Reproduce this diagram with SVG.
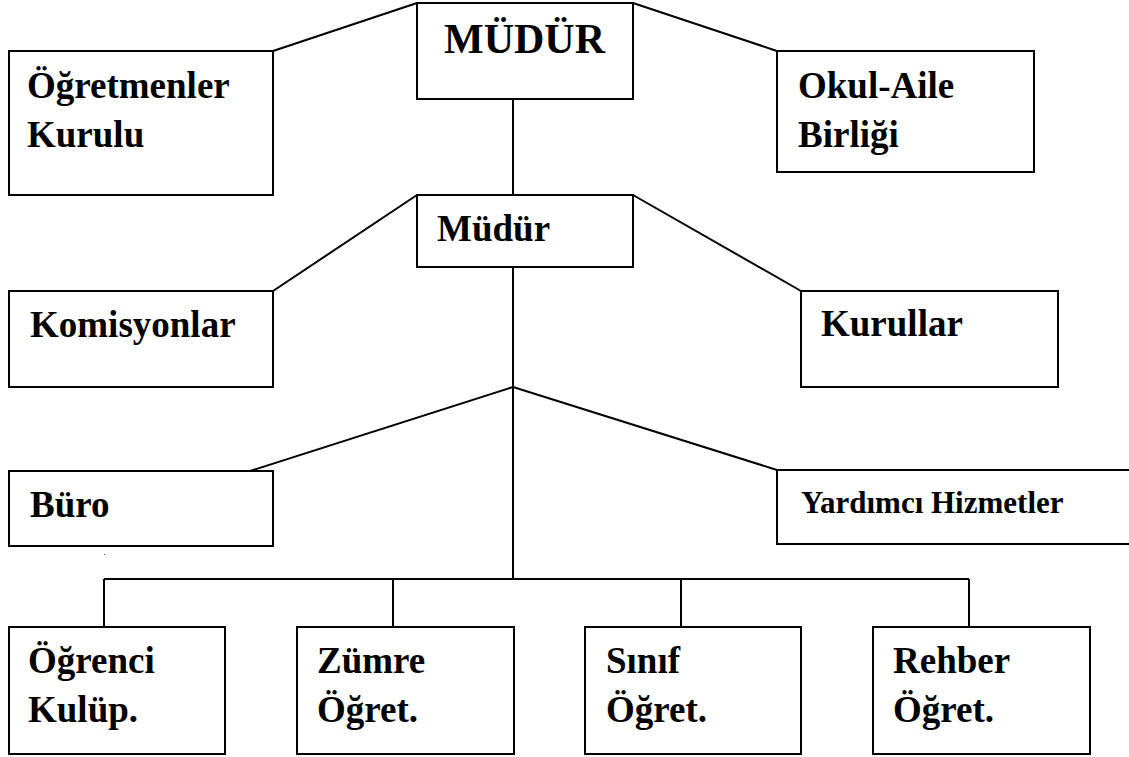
<svg xmlns="http://www.w3.org/2000/svg" width="1129" height="757" viewBox="0 0 1129 757">
<style>
.box{fill:#fff;stroke:#000;stroke-width:2}
.ln{stroke:#000;stroke-width:2;fill:none}
text{font-family:"Liberation Serif","Times New Roman",serif;font-weight:bold;fill:#000;font-size:37px}
</style>
<rect width="1129" height="757" fill="#fff"/>
<g id="connectors">
<line class="ln" x1="273" y1="51" x2="417" y2="3"/>
<line class="ln" x1="633" y1="3" x2="777" y2="51"/>
<line class="ln" x1="513" y1="99" x2="513" y2="195"/>
<line class="ln" x1="273" y1="291" x2="417" y2="195"/>
<line class="ln" x1="633" y1="195" x2="801" y2="291"/>
<line class="ln" x1="513" y1="267" x2="513" y2="579"/>
<line class="ln" x1="513" y1="387" x2="250" y2="471"/>
<line class="ln" x1="513" y1="387" x2="777" y2="470"/>
<line class="ln" x1="104" y1="579" x2="969" y2="579"/>
<line class="ln" x1="104" y1="579" x2="104" y2="627"/>
<line class="ln" x1="393" y1="579" x2="393" y2="627"/>
<line class="ln" x1="681" y1="579" x2="681" y2="627"/>
<line class="ln" x1="969" y1="579" x2="969" y2="627"/>
<rect x="104" y="554" width="1" height="1" fill="#666"/>
</g>
<g id="mudur-top"><rect class="box" x="417" y="3" width="216" height="96"/><text x="444" y="53" style="font-size:42px">MÜDÜR</text></g>
<g id="ogretmenler"><rect class="box" x="9" y="51" width="264" height="144"/><text x="27" y="98">Öğretmenler</text><text x="27" y="147">Kurulu</text></g>
<g id="okul-aile"><rect class="box" x="777" y="51" width="257" height="121"/><text x="798" y="98">Okul-Aile</text><text x="798" y="147">Birliği</text></g>
<g id="mudur"><rect class="box" x="417" y="195" width="216" height="72"/><text x="437" y="241">Müdür</text></g>
<g id="komisyonlar"><rect class="box" x="9" y="291" width="264" height="96"/><text x="30" y="337">Komisyonlar</text></g>
<g id="kurullar"><rect class="box" x="801" y="291" width="257" height="96"/><text x="821" y="336">Kurullar</text></g>
<g id="buro"><rect class="box" x="9" y="471" width="264" height="75"/><text x="30" y="517">Büro</text></g>
<g id="yardimci"><rect class="box" x="777" y="470" width="360" height="74"/><text x="801" y="513" style="font-size:31px">Yardımcı Hizmetler</text></g>
<g id="ogrenci"><rect class="box" x="9" y="627" width="216" height="127"/><text x="28" y="673">Öğrenci</text><text x="28" y="722">Kulüp.</text></g>
<g id="zumre"><rect class="box" x="297" y="627" width="217" height="127"/><text x="317" y="673">Zümre</text><text x="317" y="722">Öğret.</text></g>
<g id="sinif"><rect class="box" x="585" y="627" width="216" height="127"/><text x="606" y="673">Sınıf</text><text x="606" y="722">Öğret.</text></g>
<g id="rehber"><rect class="box" x="873" y="627" width="217" height="127"/><text x="893" y="673">Rehber</text><text x="893" y="722">Öğret.</text></g>
</svg>
